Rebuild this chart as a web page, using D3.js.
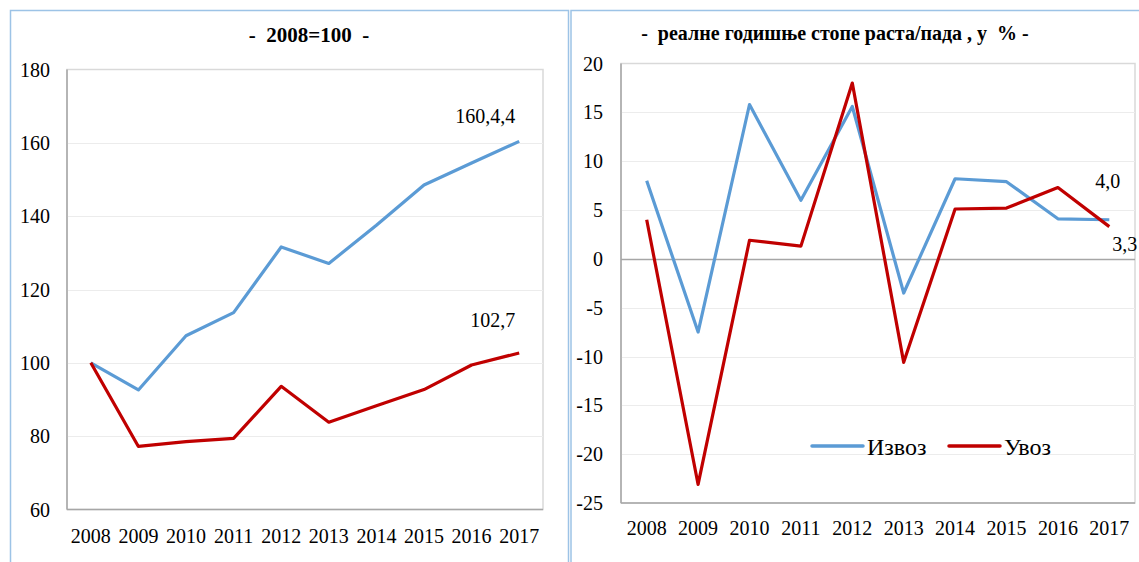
<!DOCTYPE html>
<html lang="sr">
  <head>
    <meta charset="utf-8">
    <title>Извоз и увоз</title>
    <script src="https://d3js.org/d3.v7.min.js"></script>
    <style>
      body { margin: 0; background: #fff; }
      svg text { font-family: "Liberation Serif", "Times New Roman", serif; fill: #000; }
    </style>
  </head>
  <body>
    <div id="chart"></div>
    <script>
      // data
      let years = ["2008", "2009", "2010", "2011", "2012", "2013", "2014", "2015", "2016", "2017"];
      let exportIndex = [100, 92.6, 107.4, 113.7, 131.6, 127.1, 137.5, 148.5, 154.5, 160.4];
      let importIndex = [100, 77.2, 78.5, 79.4, 93.6, 83.8, 88.3, 92.7, 99.4, 102.7];
      let exportGrowth = [8.0, -7.5, 15.8, 6.0, 15.6, -3.5, 8.2, 7.9, 4.1, 4.0];
      let importGrowth = [4.0, -23.1, 1.9, 1.3, 18.0, -10.6, 5.1, 5.2, 7.3, 3.3];
      let indexTicks = [60, 80, 100, 120, 140, 160, 180];
      let growthTicks = [-25, -20, -15, -10, -5, 0, 5, 10, 15, 20];
      let seriesNames = ["Извоз", "Увоз"];
      let endLabelsLeft = ["160,4,4", "102,7"];
      let endLabelsRight = ["4,0", "3,3"];

      let w = 1139, h = 562;
      let blue = "#5b9bd5", red = "#c00000";
      let frameColor = "#9dc3e6";

      let svg = d3.select("#chart").append("svg")
                  .attr("width", w)
                  .attr("height", h);

      // outer frames of both panels
      svg.append("rect").attr("x", 10.5).attr("y", 10.5).attr("width", 558).attr("height", 600)
         .attr("fill", "none").attr("stroke", frameColor).attr("stroke-width", 1.5);
      svg.append("rect").attr("x", 571).attr("y", 10.5).attr("width", 600).attr("height", 600)
         .attr("fill", "none").attr("stroke", frameColor).attr("stroke-width", 1.5);

      function drawPanel(opt) {
        let x = d3.scaleBand().domain(years).range([opt.left, opt.right]);
        let y = d3.scaleLinear().domain(d3.extent(opt.ticks)).range([opt.bottom, opt.top]);
        let g = svg.append("g");

        // plot area border
        g.append("rect")
         .attr("x", opt.left).attr("y", opt.top)
         .attr("width", opt.right - opt.left).attr("height", opt.bottom - opt.top)
         .attr("fill", "none").attr("stroke", "#d9d9d9").attr("stroke-width", 1.5);

        // gridlines
        g.selectAll(".grid").data(opt.ticks.slice(1, -1)).enter()
         .append("line")
         .attr("x1", opt.left).attr("x2", opt.right)
         .attr("y1", d => Math.round(y(d)) + 0.5).attr("y2", d => Math.round(y(d)) + 0.5)
         .attr("stroke", d => d === 0 ? "#a6a6a6" : "#ececec")
         .attr("stroke-width", d => d === 0 ? 1.5 : 1);

        // axis lines
        g.append("line").attr("x1", opt.left).attr("x2", opt.left)
         .attr("y1", opt.top).attr("y2", opt.bottom)
         .attr("stroke", "#a6a6a6").attr("stroke-width", 1.5);
        g.append("line").attr("x1", opt.left).attr("x2", opt.right)
         .attr("y1", opt.bottom).attr("y2", opt.bottom)
         .attr("stroke", "#a6a6a6").attr("stroke-width", 1.5);

        // y tick labels
        g.selectAll(".ylab").data(opt.ticks).enter()
         .append("text")
         .attr("x", opt.yLabelX)
         .attr("y", d => y(d) + 7)
         .attr("text-anchor", "end")
         .attr("font-size", "20px")
         .text(d => d);

        // x tick labels
        g.selectAll(".xlab").data(years).enter()
         .append("text")
         .attr("x", d => x(d) + x.bandwidth() / 2)
         .attr("y", opt.bottom + opt.xLabelDy)
         .attr("text-anchor", "middle")
         .attr("font-size", "20px")
         .text(d => d);

        // title
        g.append("text")
         .attr("x", opt.titleX).attr("y", opt.titleY)
         .attr("text-anchor", "middle")
         .attr("font-size", opt.titleSize)
         .attr("font-weight", "bold")
         .style("white-space", "pre")
         .text(opt.title);

        let line = d3.line()
                     .x((d, i) => x(years[i]) + x.bandwidth() / 2)
                     .y(d => y(d));

        [opt.s1, opt.s2].forEach(function(s, k) {
          g.append("path")
           .attr("d", line(s))
           .attr("fill", "none")
           .attr("stroke", k === 0 ? blue : red)
           .attr("stroke-width", 3.2)
           .attr("stroke-linejoin", "round");
        });

        return { x: x, y: y, g: g };
      }

      // left panel: index 2008=100
      let p1 = drawPanel({
        left: 67, right: 543, top: 69.5, bottom: 509.5,
        ticks: indexTicks, yLabelX: 50, xLabelDy: 33.5,
        title: "-  2008=100  -", titleX: 309, titleY: 42, titleSize: "21px",
        s1: exportIndex, s2: importIndex
      });
      let last = years[years.length - 1];
      let xEnd1 = p1.x(last) + p1.x.bandwidth() / 2;
      p1.g.append("text").attr("x", xEnd1 - 4).attr("y", p1.y(exportIndex[9]) - 18)
          .attr("text-anchor", "end").attr("font-size", "20px").text(endLabelsLeft[0]);
      p1.g.append("text").attr("x", xEnd1 - 4).attr("y", p1.y(importIndex[9]) - 26)
          .attr("text-anchor", "end").attr("font-size", "20px").text(endLabelsLeft[1]);

      // right panel: real growth rates
      let p2 = drawPanel({
        left: 621, right: 1135, top: 63.5, bottom: 503,
        ticks: growthTicks, yLabelX: 603, xLabelDy: 32,
        title: "-  реалне годишње стопе раста/пада , у  % -", titleX: 835, titleY: 40, titleSize: "20px",
        s1: exportGrowth, s2: importGrowth
      });
      let xEnd2 = p2.x(last) + p2.x.bandwidth() / 2;
      p2.g.append("text").attr("x", xEnd2 + 11).attr("y", p2.y(exportGrowth[9]) - 32)
          .attr("text-anchor", "end").attr("font-size", "20px").text(endLabelsRight[0]);
      p2.g.append("text").attr("x", xEnd2 + 3).attr("y", p2.y(importGrowth[9]) + 24)
          .attr("text-anchor", "start").attr("font-size", "20px").text(endLabelsRight[1]);

      // legend
      let legend = svg.append("g").attr("transform", "translate(812,446)");
      legend.selectAll("line").data(seriesNames).enter()
            .append("line")
            .attr("x1", (d, i) => i * 137).attr("x2", (d, i) => i * 137 + 51)
            .attr("y1", 0).attr("y2", 0)
            .attr("stroke", (d, i) => i === 0 ? blue : red)
            .attr("stroke-width", 3.5)
            .attr("stroke-linecap", "round");
      legend.selectAll("text").data(seriesNames).enter()
            .append("text")
            .attr("x", (d, i) => i * 137 + 55)
            .attr("y", 9)
            .attr("font-size", "24px")
            .text(d => d);
    </script>
  </body>
</html>
